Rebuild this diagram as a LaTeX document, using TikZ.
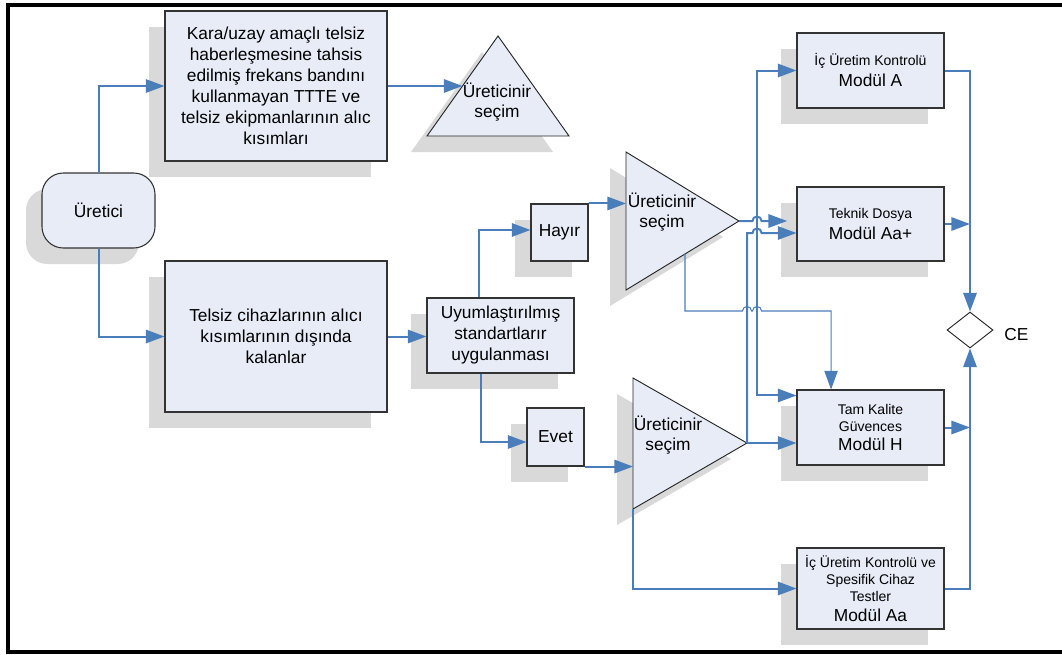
\documentclass[tikz,border=0pt]{standalone}
\usepackage{fontspec}
\setmainfont{Liberation Sans}
\usetikzlibrary{arrows.meta,calc,shadows,shapes.geometric}

\newcommand{\smalltxt}{\fontsize{10.5}{13}\selectfont}
\newcommand{\modtxt}{\fontsize{13}{15}\selectfont}

\begin{document}
\begin{tikzpicture}[x=0.75pt, y=-0.75pt, >={Triangle[length=14pt, width=10pt]}]
  \definecolor{flowblue}{HTML}{4A7EBB}
  \definecolor{boxfill}{HTML}{E7ECF7}
  \definecolor{shadowgray}{HTML}{D9D9D9}
  \tikzset{
    shade box/.style={drop shadow={shadow xshift=-12pt, shadow yshift=-12pt, fill=shadowgray, opacity=1}},
    box/.style={shade box, draw=black!80, fill=boxfill, line width=0.8pt, align=center, inner sep=2pt, font=\fontsize{13}{15.75}\selectfont},
    modbox/.style={box, minimum width=110.25pt, minimum height=56.25pt},
    tri/.style={shade box, draw=black!85, fill=boxfill, line width=0.7pt},
    seltext/.style={align=center, inner sep=0pt, font=\fontsize{13}{15}\selectfont},
    flow/.style={draw=flowblue, line width=1.5pt, ->},
    thinflow/.style={flow, line width=0.8pt},
  }
  \useasboundingbox (0,0) rectangle (1062,654);

  % left column
  \node[box, rounded corners=16pt, minimum width=84.75pt, minimum height=56.25pt] (uretici) at (98.5,210.5) {Üretici};
  \node[box, minimum width=166.5pt, minimum height=112.5pt] (tbox) at (276,86)
    {Kara/uzay amaçlı telsiz\\haberleşmesine tahsis\\edilmiş frekans bandını\\kullanmayan TTTE ve\\telsiz ekipmanlarının alıc\\kısımları};
  \node[box, minimum width=166.5pt, minimum height=113.25pt] (bbox) at (276,336.5)
    {Telsiz cihazlarının alıcı\\kısımlarının dışında\\kalanlar};

  % middle
  \node[box, minimum width=110.25pt, minimum height=56.25pt] (uyum) at (500.5,335.5) {Uyumlaştırılmış\\standartlarır\\uygulanması};
  \node[box, minimum width=42.75pt, minimum height=42.75pt] (hayir) at (559.5,232.5) {Hayır};
  \node[box, minimum width=42.75pt, minimum height=43.5pt] (evet) at (555.5,437) {Evet};

  % selection triangles
  \coordinate (s1apex) at (498,36);
  \coordinate (s1left) at (427,136);
  \coordinate (s1right) at (569,136);
  \draw[tri] (s1apex) -- (s1left) -- (s1right) -- cycle;
  \node[seltext] (s1txt) at (497,102) {Üreticinir\\seçim};

  \coordinate (s2top) at (626,152);
  \coordinate (s2bot) at (626,290);
  \coordinate (s2apex) at (739,221);
  \draw[tri] (s2top) -- (s2apex) -- (s2bot) -- cycle;
  \node[seltext] (s2txt) at (662,212) {Üreticinir\\seçim};

  \coordinate (s3top) at (633,378);
  \coordinate (s3bot) at (633,509);
  \coordinate (s3apex) at (747,443);
  \draw[tri] (s3top) -- (s3apex) -- (s3bot) -- cycle;
  \node[seltext] (s3txt) at (668,435) {Üreticinir\\seçim};

  % modules
  \node[modbox] (modA) at (870.5,70.5) {\smalltxt İç Üretim Kontrolü\\\modtxt Modül A};
  \node[modbox, minimum height=55.5pt] (tekn) at (870.5,224) {\smalltxt Teknik Dosya\\\modtxt Modül Aa+};
  \node[modbox] (tamk) at (870.5,427.5) {\smalltxt Tam Kalite\\[-3.5pt]\smalltxt Güvences\\[-1.5pt]\modtxt Modül H};
  \node[modbox, minimum height=60.75pt] (modAa) at (870.5,588.5)
    {\smalltxt İç Üretim Kontrolü ve\\[-3pt]\smalltxt Spesifik Cihaz\\[-3pt]\smalltxt Testler\\[-1pt]\modtxt Modül Aa};

  \node[diamond, draw=black!85, fill=white, line width=0.7pt, inner sep=0pt, minimum width=34.5pt, minimum height=27pt] (ce) at (970,330) {};
  \node[anchor=west, inner sep=0pt, font=\fontsize{13}{15}\selectfont] (celbl) at (1004,335) {CE};

  % helper points
  \coordinate (busA) at (757,0);
  \coordinate (tkY) at (0,311);
  \coordinate (s1in) at ($(s1apex)!0.5!(s1left)$);
  \coordinate (s2low) at ($(s2apex)!0.478!(s2bot)$);
  \coordinate (tamkin) at ([yshift=-4.5pt]tamk.north west);
  \coordinate (tamktop) at ([xshift=-29.6pt]tamk.north);
  \coordinate (tekn2) at ([yshift=-6.75pt]tekn.west);

  % connectors
  \draw[flow] (uretici.north) |- (tbox.west);
  \draw[flow] (uretici.south) |- (bbox.west);
  \draw[flow] (tbox.east) -- (tbox.east -| s1in);
  \draw[flow] (bbox.east) -- (bbox.east -| uyum.west);
  \draw[flow] ([xshift=-16pt]uyum.north) |- ([yshift=1.9pt]hayir.west);
  \draw[flow] ([xshift=-14.6pt]uyum.south) |- ([yshift=-3.75pt]evet.west);
  \draw[flow] (hayir.north east) -- (hayir.north east -| s2top);
  \draw[flow] (evet.south east) -- (evet.south east -| s3top);

  \draw[flow] (s2apex) -- ([xshift=-3.4pt]busA |- s2apex) arc[start angle=180, end angle=0, radius=3.4pt]
    -- ([xshift=-7pt]tekn.west |- s2apex);
  \draw[flow, <->] (modA.west) -- (busA |- modA.west) -- (busA |- tamkin) -- (tamkin);
  \draw[flow] (s3apex) -- (s3apex -| tamk.west);
  \draw[flow] (s3apex) -- (s3apex |- tekn2) -- ([xshift=-3.4pt]busA |- tekn2)
    arc[start angle=180, end angle=0, radius=3.4pt] -- (tekn2);
  \draw[thinflow] (s2low) |- ([xshift=-3.4pt]s3apex |- tkY) arc[start angle=180, end angle=0, radius=3.4pt]
    -- ([xshift=-3.4pt]busA |- tkY) arc[start angle=180, end angle=0, radius=3.4pt] -| (tamktop);
  \draw[flow] (s3bot) |- (modAa.west);

  \draw[flow] (modA.east) -| (ce.north);
  \draw[flow] (tekn.east) -- (tekn.east -| ce.north);
  \draw[flow] (tamk.east) -- (tamk.east -| ce.north);
  \draw[flow] (modAa.east) -| (ce.south);

  % frame
  \draw[line width=3pt] (1062,5) -- (8,5) -- (8,652) -- (1062,652);
\end{tikzpicture}
\end{document}
